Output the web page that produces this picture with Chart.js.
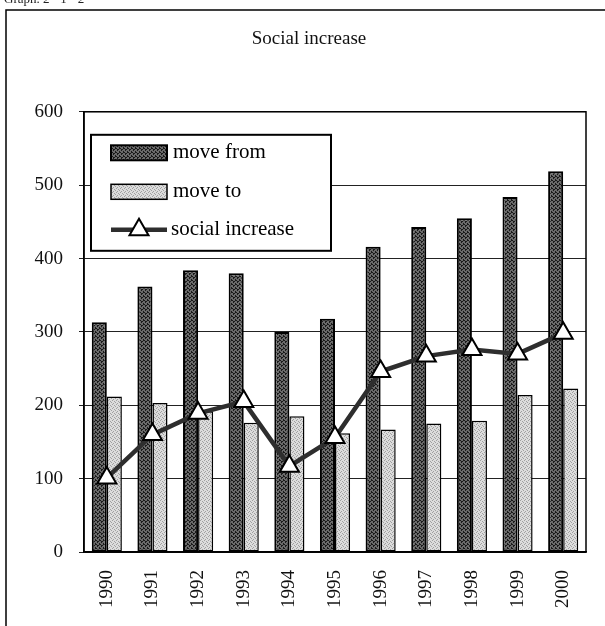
<!DOCTYPE html>
<html><head><meta charset="utf-8">
<script src="https://cdn.jsdelivr.net/npm/chart.js@4/dist/chart.umd.min.js"></script>
<style>html,body{margin:0;padding:0;background:#fff}#wrap{width:605px;height:626px;overflow:hidden}</style>
</head><body><div id="wrap"><canvas id="c" width="605" height="626"></canvas></div>
<script>
const years = ['1990','1991','1992','1993','1994','1995','1996','1997','1998','1999','2000'];
const moveFrom = [313,362,384,380,300,318,416,443,455,484,519];
const moveTo = [212,203,192,176,185,162,167,175,179,214,223];
const socialIncrease = [101,160,189,205,117,156,246,267,276,270,298];
const yTicks = [0,100,200,300,400,500,600];
const seriesNames = ['move from','move to','social increase'];
const titleText = 'Social increase';
const headerText = 'Graph. 2 - 1 - 2';

const FONT = "'Liberation Serif','DejaVu Serif',serif";

function makePattern(base, dots, dotColor){
  const c = document.createElement('canvas'); c.width = 4; c.height = 4;
  const g = c.getContext('2d');
  g.fillStyle = base; g.fillRect(0,0,4,4);
  g.fillStyle = dotColor;
  dots.forEach(([x,y]) => g.fillRect(x,y,1,1));
  return g.createPattern(c,'repeat');
}
const ctx = document.getElementById('c').getContext('2d');
const darkFill = makePattern('#6a6a6a', [[0,0],[2,1],[1,2],[3,3],[3,0],[1,1]], '#1a1a1a');
const lightFill = makePattern('#dcdcdc', [[0,0],[2,1],[1,3],[3,2]], '#a0a0a0');

const framePlugin = {
  id: 'frame',
  beforeDraw(chart){
    const g = chart.ctx;
    g.save();
    g.fillStyle = '#fff'; g.fillRect(0,0,chart.width,chart.height);
    g.strokeStyle = '#000'; g.lineWidth = 1.5;
    g.beginPath(); g.moveTo(6,626); g.lineTo(6,10); g.lineTo(605,10); g.stroke();
    g.fillStyle = '#222'; g.font = '13px ' + FONT; g.textBaseline = 'middle';
    g.fillText(headerText, 4, 0);
    g.restore();
  },
  afterDraw(chart){
    const g = chart.ctx, a = chart.chartArea;
    g.save();
    g.strokeStyle = '#000'; g.lineWidth = 1.5;
    g.strokeRect(a.left, a.top, a.right - a.left, a.bottom - a.top);
    // legend box inside plot area
    const ds = chart.data.datasets;
    const bx = a.left + 7, by = a.top + 23, bw = 240, bh = 116;
    g.fillStyle = '#fff'; g.fillRect(bx, by, bw, bh);
    g.lineWidth = 2; g.strokeRect(bx, by, bw, bh);
    g.font = '21px ' + FONT; g.textBaseline = 'middle'; g.fillStyle = '#000';
    const rows = [by + 18, by + 57, by + 95];
    const sx = bx + 20, sw = 56, sh = 15;
    for (let i = 0; i < 2; i++){
      g.fillStyle = ds[i].backgroundColor;
      g.fillRect(sx, rows[i] - sh/2, sw, sh);
      g.strokeStyle = '#000'; g.lineWidth = ds[i].borderWidth;
      g.strokeRect(sx, rows[i] - sh/2, sw, sh);
      g.fillStyle = '#000';
      g.fillText(ds[i].label, sx + sw + 6, rows[i]);
    }
    const l = ds[2];
    g.strokeStyle = l.borderColor; g.lineWidth = l.borderWidth;
    g.beginPath(); g.moveTo(sx, rows[2]); g.lineTo(sx + sw, rows[2]); g.stroke();
    g.fillStyle = l.pointBackgroundColor; g.strokeStyle = l.pointBorderColor; g.lineWidth = l.pointBorderWidth;
    g.beginPath();
    const r = l.pointRadius, cx = sx + sw/2, cy = rows[2];
    g.moveTo(cx, cy - r); g.lineTo(cx + r*0.866, cy + r*0.5); g.lineTo(cx - r*0.866, cy + r*0.5); g.closePath();
    g.fill(); g.stroke();
    g.fillStyle = '#000';
    g.fillText(l.label, sx + sw + 4, rows[2]);
    g.restore();
  }
};

new Chart(ctx, {
  data: {
    labels: years,
    datasets: [
      {type:'bar', label: seriesNames[0], data: moveFrom, order: 1,
       backgroundColor: darkFill, borderColor:'#000', borderWidth:2, borderSkipped:false,
       categoryPercentage:0.66, barPercentage:1.0},
      {type:'bar', label: seriesNames[1], data: moveTo, order: 1,
       backgroundColor: lightFill, borderColor:'#000', borderWidth:1.5, borderSkipped:false,
       categoryPercentage:0.66, barPercentage:1.0},
      {type:'line', label: seriesNames[2], data: socialIncrease, order: 0,
       borderColor:'#2e2e2e', borderWidth:4.5, pointStyle:'triangle', pointRadius:11, pointHoverRadius:11,
       pointBackgroundColor:'#fff', pointBorderColor:'#000', pointBorderWidth:2, tension:0}
    ]
  },
  options: {
    responsive:false, animation:false, devicePixelRatio:1,
    layout:{padding:{left:32,right:19,top:0,bottom:0}},
    plugins:{
      legend:{display:false},
      tooltip:{enabled:false},
      title:{display:true, text:titleText, color:'#111', font:{family:FONT,size:19,weight:'normal'},
             padding:{top:28,bottom:61}}
    },
    scales:{
      x:{type:'category', offset:true,
         grid:{display:false, drawTicks:false},
         border:{display:true,color:'#000',width:1.5},
         ticks:{color:'#111', font:{family:FONT,size:19}, minRotation:90, maxRotation:90, padding:18, autoSkip:false},
         afterFit(s){ s.height = 74; }},
      y:{min:0,max:600,
         afterBuildTicks(s){ s.ticks = yTicks.map(v => ({value:v})); },
         grid:{color:'#222', lineWidth:1, tickLength:5},
         border:{display:true,color:'#000',width:1.5},
         ticks:{color:'#111', font:{family:FONT,size:19}, padding:16},
         afterFit(s){ s.width = 52; }}
    }
  },
  plugins:[framePlugin]
});
</script></body></html>
